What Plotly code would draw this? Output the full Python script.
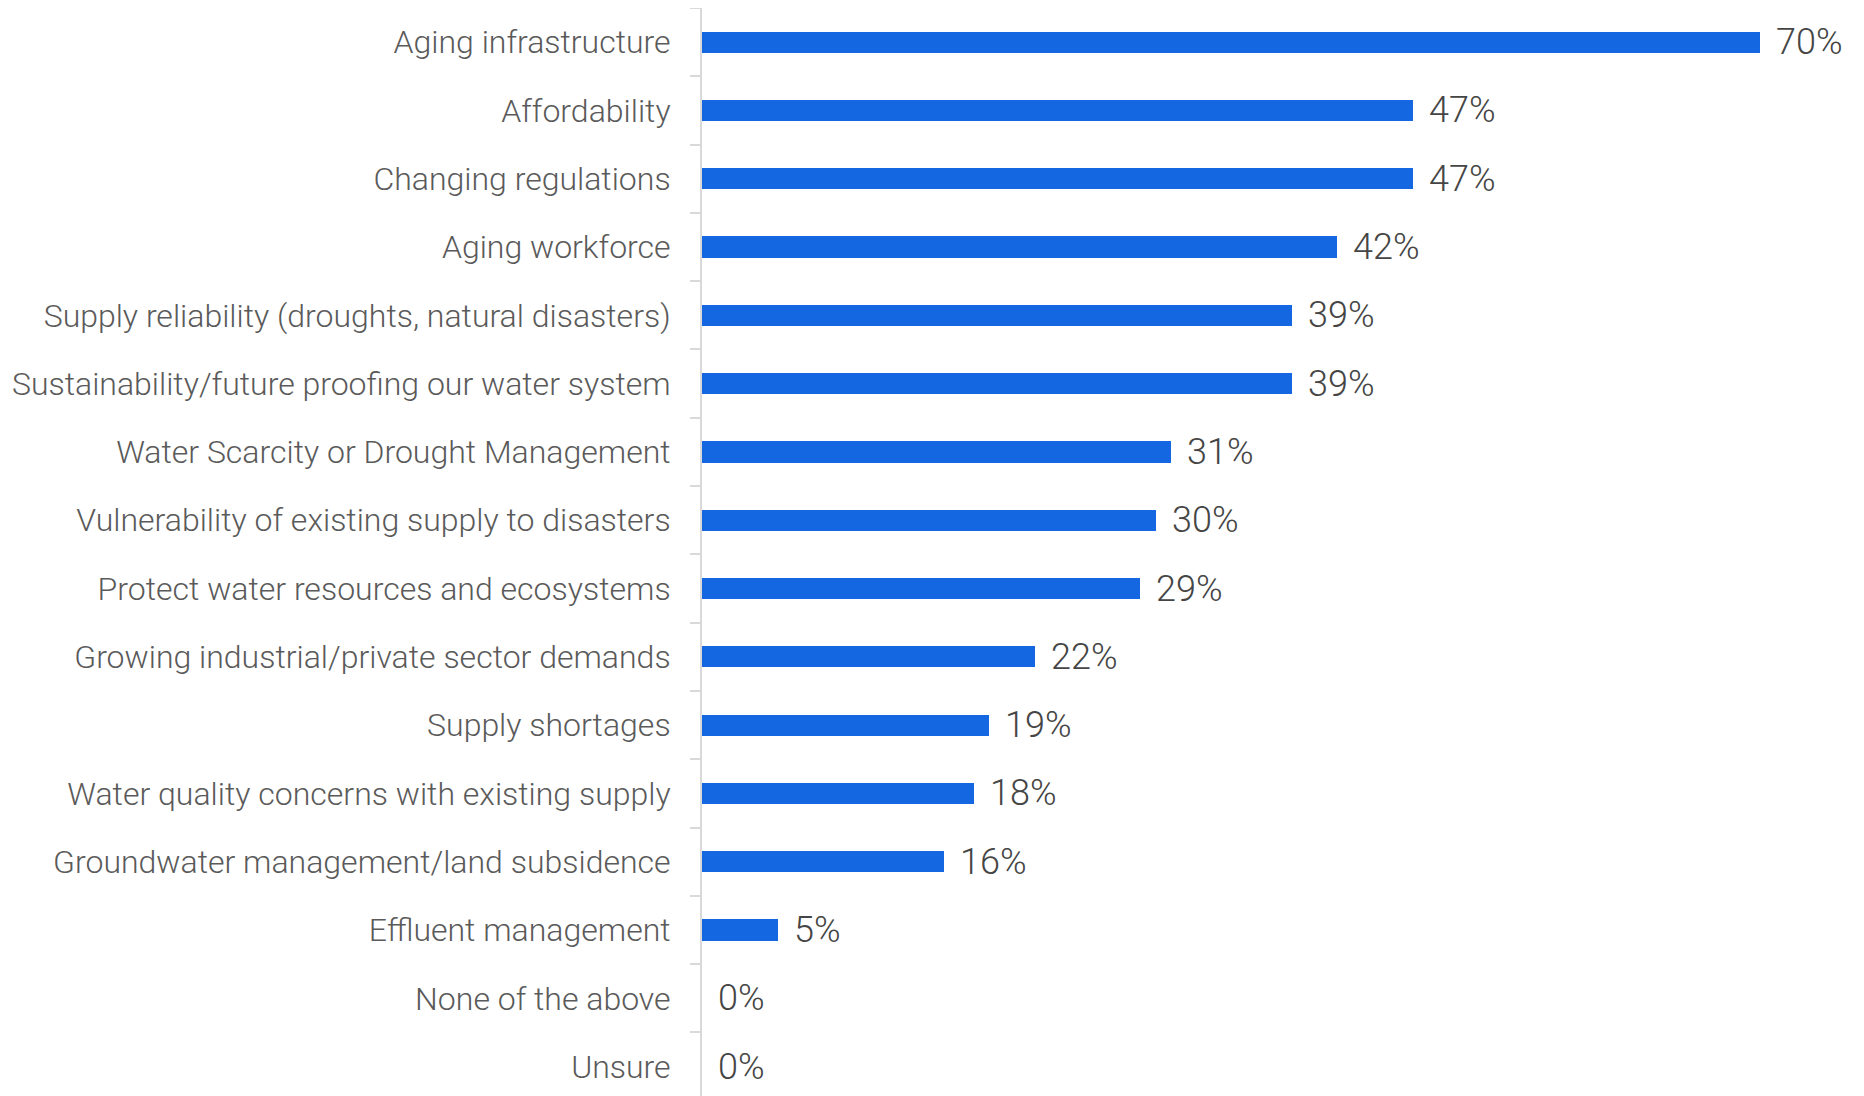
import plotly.graph_objects as go

categories = [
    "Aging infrastructure",
    "Affordability",
    "Changing regulations",
    "Aging workforce",
    "Supply reliability (droughts, natural disasters)",
    "Sustainability/future proofing our water system",
    "Water Scarcity or Drought Management",
    "Vulnerability of existing supply to disasters",
    "Protect water resources and ecosystems",
    "Growing industrial/private sector demands",
    "Supply shortages",
    "Water quality concerns with existing supply",
    "Groundwater management/land subsidence",
    "Effluent management",
    "None of the above",
    "Unsure",
]
values = [70, 47, 47, 42, 39, 39, 31, 30, 29, 22, 19, 18, 16, 5, 0, 0]
value_labels = [f"{v}%" for v in values]

BAR_COLOR = "#1467E0"
FONT = "Roboto Light, Roboto"

fig = go.Figure(
    go.Bar(
        x=values,
        y=categories,
        orientation="h",
        marker=dict(color=BAR_COLOR, line=dict(width=0)),
        width=0.31,
        hoverinfo="skip",
    )
)

annotations = []
for cat, v, lab in zip(categories, values, value_labels):
    annotations.append(
        dict(
            x=v, y=cat, xref="x", yref="y",
            text=lab, showarrow=False,
            xanchor="left", yanchor="middle",
            xshift=14,
            font=dict(family=FONT, size=36, color="#454545", weight=300),
        )
    )

fig.update_layout(
    width=1856,
    height=1088,
    margin=dict(l=694, r=0, t=0, b=0),
    paper_bgcolor="white",
    plot_bgcolor="white",
    showlegend=False,
    annotations=annotations,
    bargap=0,
)

fig.update_xaxes(
    range=[0, 76.85],
    showgrid=False,
    zeroline=False,
    showticklabels=False,
    showline=False,
    ticks="",
)

fig.update_yaxes(
    type="category",
    categoryorder="array",
    categoryarray=categories,
    range=[15.43, -0.5],
    showgrid=False,
    zeroline=False,
    showline=True,
    linecolor="#D9D9D9",
    linewidth=2,
    ticks="outside",
    tickson="boundaries",
    ticklen=10,
    tickwidth=2,
    tickcolor="#D9D9D9",
    ticklabelstandoff=23,
    tickfont=dict(family=FONT, size=32, color="#5A5A5A", weight=300),
)

fig.write_html("out.html")
